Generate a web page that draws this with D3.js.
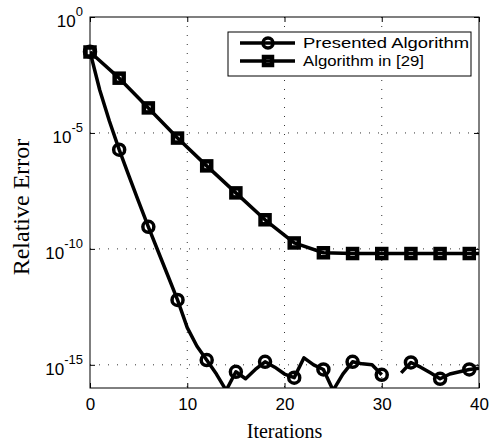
<!DOCTYPE html>
<html>
<head>
<meta charset="utf-8">
<script src="https://cdn.jsdelivr.net/npm/d3@7"></script>
<style>
  body { margin: 0; background: #fff; }
  svg { display: block; }
</style>
</head>
<body>
<div id="chart"></div>
<script>
// iteration numbers
const iters = [0,1,2,3,4,5,6,7,8,9,10,11,12,13,14,15,16,17,18,19,20,
  21,22,23,24,25,26,27,28,29,30,31,32,33,34,35,36,37,38,39,40];

// relative error, presented algorithm (null = exactly zero, not drawn on log axis)
const presented = [3.2e-2, 7.1e-4, 3.2e-5, 1.9e-6, 1.4e-7, 1.1e-8, 8.9e-10, 7.9e-11,
  7.1e-12, 6.3e-13, 4.0e-14, 6.3e-15, 1.6e-15, 4.0e-16, 7.9e-17, 5.0e-16, 2.5e-16,
  6.3e-16, 1.35e-15, 7.9e-16, 4.0e-16, 2.8e-16, 2.0e-15, 1.0e-15, 6.3e-16, 7.9e-17,
  4.0e-16, 1.35e-15, 1.1e-15, 1.0e-15, 3.7e-16, null, 4.5e-16, 1.26e-15, 7.9e-16,
  4.5e-16, 2.5e-16, 4.0e-16, 5.0e-16, 6.3e-16, 7.1e-16];

// relative error, algorithm in [29]
const refIters = [0,3,6,9,12,15,18,21,24,27,30,33,36,39,40];
const refAlg = [3.1e-2, 2.3e-3, 1.2e-4, 6.0e-6, 3.8e-7, 2.6e-8, 1.8e-9, 1.8e-10,
  6.8e-11, 6.3e-11, 6.3e-11, 6.3e-11, 6.3e-11, 6.3e-11, 6.3e-11];

const xTicks = [0, 10, 20, 30, 40];
const yTickExp = [0, -5, -10, -15];
const labels = ["Presented Algorithm", "Algorithm in [29]"];

let margin = {"left": 90, "right": 16, "top": 17, "bottom": 55};
let width = 495 - margin.left - margin.right;
let height = 443 - margin.top - margin.bottom;

const svg = d3.select("#chart")
  .append("svg")
  .attr("width", 495)
  .attr("height", 443)
  .append("g")
  .attr("transform", `translate(${margin.left},${margin.top})`);

const x = d3.scaleLinear().domain([0, 40]).range([0, width]);
const y = d3.scaleLog().domain([1e-16, 1]).range([height, 0]);

svg.append("defs").append("clipPath").attr("id", "clip")
  .append("rect").attr("width", width).attr("height", height);

// dotted grid
const grid = svg.append("g").attr("stroke", "#333").attr("stroke-width", 1)
  .attr("stroke-dasharray", "1,8");
xTicks.slice(1, -1).forEach(t => {
  grid.append("line").attr("x1", x(t)).attr("x2", x(t)).attr("y1", 0).attr("y2", height);
});
yTickExp.slice(1).forEach(e => {
  grid.append("line").attr("x1", 0).attr("x2", width)
    .attr("y1", y(Math.pow(10, e))).attr("y2", y(Math.pow(10, e)));
});

// axes, matlab style ticks pointing inward
const xAxis = svg.append("g")
  .attr("transform", `translate(0,${height})`)
  .call(d3.axisBottom(x).tickValues(xTicks).tickSizeInner(-5).tickSizeOuter(0).tickPadding(10));
const xAxisTop = svg.append("g")
  .call(d3.axisTop(x).tickValues(xTicks).tickSizeInner(-5).tickSizeOuter(0).tickFormat(""));
const yAxis = svg.append("g")
  .call(d3.axisLeft(y).tickValues(yTickExp.map(e => Math.pow(10, e)))
    .tickSizeInner(-5).tickSizeOuter(0).tickFormat(""));
const yAxisRight = svg.append("g")
  .attr("transform", `translate(${width},0)`)
  .call(d3.axisRight(y).tickValues(yTickExp.map(e => Math.pow(10, e)))
    .tickSizeInner(-5).tickSizeOuter(0).tickFormat(""));

[xAxis, xAxisTop, yAxis, yAxisRight].forEach(a => {
  a.select(".domain").remove();
  a.selectAll("line").attr("stroke", "#000");
});
xAxis.selectAll("text")
  .attr("font-family", "Liberation Sans, Arial, sans-serif")
  .attr("font-size", 17).attr("fill", "#000");

// log tick labels 10^n
yTickExp.forEach(e => {
  const t = svg.append("text")
    .attr("x", -7).attr("y", y(Math.pow(10, e)) + 10)
    .attr("text-anchor", "end")
    .attr("font-family", "Liberation Sans, Arial, sans-serif")
    .attr("font-size", 17).attr("fill", "#000");
  t.append("tspan").text("10");
  t.append("tspan").attr("dy", -11).attr("font-size", 13).text(e === 0 ? "0" : "-" + (-e));
});

// box
svg.append("rect").attr("width", width).attr("height", height)
  .attr("fill", "none").attr("stroke", "#000").attr("stroke-width", 1);

// lines
const lineP = d3.line()
  .defined(d => d[1] !== null)
  .x(d => x(d[0])).y(d => y(d[1]));

svg.append("path")
  .datum(iters.map((it, i) => [it, presented[i]]))
  .attr("clip-path", "url(#clip)")
  .attr("fill", "none").attr("stroke", "#000").attr("stroke-width", 3.5)
  .attr("stroke-linejoin", "round")
  .attr("d", lineP);

svg.append("path")
  .datum(refIters.map((it, i) => [it, refAlg[i]]))
  .attr("clip-path", "url(#clip)")
  .attr("fill", "none").attr("stroke", "#000").attr("stroke-width", 3.5)
  .attr("stroke-linejoin", "round")
  .attr("d", lineP);

// markers every 3 iterations
svg.append("g").selectAll("circle")
  .data(iters.map((it, i) => [it, presented[i]]).filter(d => d[0] % 3 === 0 && d[1] !== null))
  .join("circle")
  .attr("cx", d => x(d[0])).attr("cy", d => y(d[1])).attr("r", 5.5)
  .attr("fill", "none").attr("stroke", "#000").attr("stroke-width", 3.5);

svg.append("g").selectAll("rect")
  .data(refIters.map((it, i) => [it, refAlg[i]]).filter(d => d[0] % 3 === 0))
  .join("rect")
  .attr("x", d => x(d[0]) - 4.5).attr("y", d => y(d[1]) - 4.5)
  .attr("width", 9).attr("height", 9)
  .attr("fill", "none").attr("stroke", "#000").attr("stroke-width", 4.5);

// legend
const legendWidths = [166, 121];
const legend = svg.append("g").attr("transform", `translate(${228 - margin.left},${32 - margin.top})`);
legend.append("rect").attr("width", 243).attr("height", 44)
  .attr("fill", "#fff").attr("stroke", "#000").attr("stroke-width", 1);
labels.forEach((lab, i) => {
  const ly = 11 + i * 18;
  legend.append("line").attr("x1", 12).attr("x2", 67).attr("y1", ly).attr("y2", ly)
    .attr("stroke", "#000").attr("stroke-width", 3.5);
  if (i === 0) {
    legend.append("circle").attr("cx", 40).attr("cy", ly).attr("r", 5)
      .attr("fill", "none").attr("stroke", "#000").attr("stroke-width", 3.5);
  } else {
    legend.append("rect").attr("x", 36).attr("y", ly - 4).attr("width", 8).attr("height", 8)
      .attr("fill", "none").attr("stroke", "#000").attr("stroke-width", 4.5);
  }
  legend.append("text").attr("x", 75).attr("y", ly + 5)
    .attr("font-family", "Liberation Sans, Arial, sans-serif")
    .attr("font-size", 14.5).attr("fill", "#000")
    .attr("textLength", legendWidths[i]).attr("lengthAdjust", "spacingAndGlyphs")
    .text(lab);
});

// axis titles
svg.append("text")
  .attr("x", width / 2).attr("y", height + 50)
  .attr("text-anchor", "middle")
  .attr("font-family", "Liberation Serif, Times New Roman, serif")
  .attr("font-size", 20).attr("fill", "#000")
  .text("Iterations");

svg.append("text")
  .attr("transform", `translate(${29 - margin.left},${207 - margin.top})rotate(-90)`)
  .attr("text-anchor", "middle")
  .attr("font-family", "Liberation Serif, Times New Roman, serif")
  .attr("font-size", 24).attr("fill", "#000")
  .text("Relative Error");
</script>
</body>
</html>
